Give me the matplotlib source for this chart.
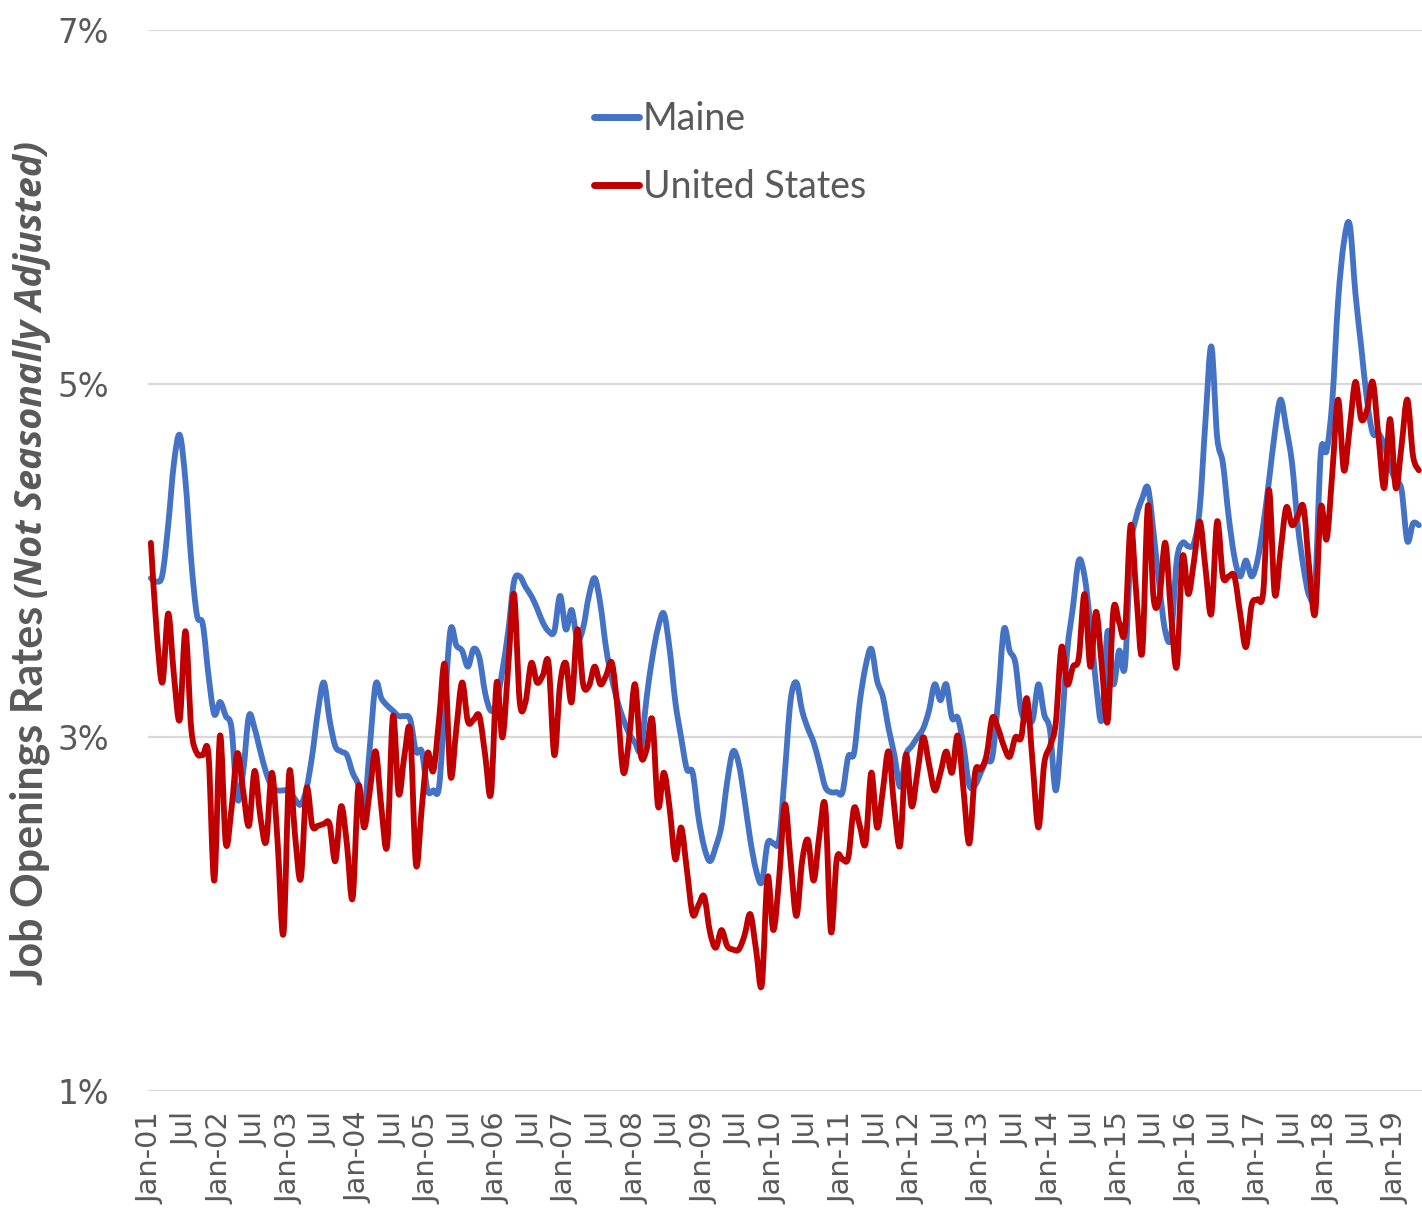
import numpy as np
import matplotlib
matplotlib.use("Agg")
import matplotlib.pyplot as plt
from matplotlib.path import Path
from matplotlib.patches import PathPatch
from matplotlib.lines import Line2D

# ---------------- data (monthly, Jan-2001 .. May-2019) ----------------
series_names = ["Maine", "United States"]

maine = [
    3.90, 3.88, 3.92, 4.20, 4.55, 4.71, 4.45, 4.00, 3.69, 3.64, 3.35, 3.13,   # 2001
    3.20, 3.12, 3.05, 2.65, 2.80, 3.12, 3.05, 2.92, 2.80, 2.72, 2.70, 2.70,   # 2002
    2.70, 2.65, 2.62, 2.71, 2.90, 3.15, 3.31, 3.10, 2.95, 2.92, 2.90, 2.80,   # 2003
    2.73, 2.59, 2.95, 3.30, 3.22, 3.18, 3.15, 3.12, 3.12, 3.10, 2.92, 2.92,   # 2004
    2.70, 2.70, 2.72, 3.19, 3.61, 3.52, 3.49, 3.40, 3.50, 3.45, 3.25, 3.15,   # 2005
    3.20, 3.38, 3.60, 3.88, 3.91, 3.85, 3.80, 3.73, 3.65, 3.60, 3.60, 3.80,   # 2006
    3.61, 3.72, 3.55, 3.62, 3.80, 3.90, 3.75, 3.50, 3.33, 3.20, 3.10, 3.02,   # 2007
    2.97, 2.93, 3.22, 3.45, 3.62, 3.70, 3.50, 3.20, 3.00, 2.82, 2.80, 2.55,   # 2008
    2.38, 2.30, 2.38, 2.50, 2.75, 2.92, 2.85, 2.65, 2.42, 2.25, 2.18, 2.40,   # 2009
    2.40, 2.42, 2.80, 3.21, 3.31, 3.15, 3.05, 2.97, 2.85, 2.72, 2.69, 2.69,   # 2010
    2.69, 2.89, 2.91, 3.20, 3.40, 3.50, 3.32, 3.23, 3.05, 2.90, 2.72, 2.90,   # 2011
    2.95, 3.00, 3.05, 3.15, 3.30, 3.21, 3.30, 3.11, 3.11, 2.95, 2.73, 2.73,   # 2012
    2.80, 2.87, 2.89, 3.21, 3.61, 3.49, 3.42, 3.15, 3.10, 3.10, 3.30, 3.13,   # 2013
    3.04, 2.70, 3.04, 3.49, 3.74, 4.00, 3.91, 3.64, 3.30, 3.10, 3.60, 3.30,   # 2014
    3.49, 3.40, 4.06, 4.25, 4.35, 4.41, 4.15, 3.85, 3.60, 3.57, 4.00, 4.10,   # 2015
    4.08, 4.10, 4.30, 4.80, 5.21, 4.70, 4.55, 4.25, 4.02, 3.91, 4.00, 3.91,   # 2016
    4.00, 4.20, 4.45, 4.72, 4.91, 4.75, 4.55, 4.20, 3.96, 3.80, 3.85, 4.61,   # 2017
    4.62, 4.91, 5.47, 5.80, 5.90, 5.51, 5.21, 4.91, 4.72, 4.72, 4.65, 4.53,   # 2018
    4.45, 4.40, 4.11, 4.21, 4.20,                                             # 2019
]

united_states = [
    4.10, 3.60, 3.31, 3.70, 3.35, 3.10, 3.60, 3.05, 2.91, 2.90, 2.90, 2.19,   # 2001
    3.01, 2.40, 2.60, 2.91, 2.70, 2.50, 2.81, 2.55, 2.41, 2.80, 2.40, 1.89,   # 2002
    2.80, 2.45, 2.20, 2.71, 2.50, 2.50, 2.51, 2.51, 2.30, 2.61, 2.40, 2.09,   # 2003
    2.72, 2.49, 2.70, 2.92, 2.60, 2.39, 3.12, 2.68, 2.90, 3.03, 2.28, 2.60,   # 2004
    2.91, 2.81, 3.10, 3.41, 2.78, 3.05, 3.31, 3.09, 3.10, 3.12, 2.90, 2.68,   # 2005
    3.31, 3.00, 3.40, 3.81, 3.20, 3.20, 3.42, 3.31, 3.35, 3.42, 2.90, 3.30,   # 2006
    3.42, 3.20, 3.61, 3.30, 3.29, 3.40, 3.30, 3.35, 3.42, 3.15, 2.80, 3.00,   # 2007
    3.30, 2.90, 2.93, 3.10, 2.61, 2.80, 2.60, 2.31, 2.49, 2.25, 2.00, 2.05,   # 2008
    2.10, 1.90, 1.81, 1.91, 1.82, 1.80, 1.80, 1.88, 2.00, 1.80, 1.60, 2.21,   # 2009
    1.91, 2.20, 2.62, 2.30, 1.99, 2.30, 2.42, 2.19, 2.45, 2.61, 1.90, 2.31,   # 2010
    2.31, 2.32, 2.60, 2.50, 2.40, 2.80, 2.49, 2.70, 2.92, 2.60, 2.39, 2.90,   # 2011
    2.61, 2.80, 3.00, 2.85, 2.70, 2.80, 2.92, 2.80, 3.01, 2.70, 2.40, 2.80,   # 2012
    2.82, 2.90, 3.11, 3.05, 2.95, 2.89, 3.00, 3.00, 3.22, 2.85, 2.49, 2.85,   # 2013
    2.95, 3.08, 3.51, 3.30, 3.40, 3.45, 3.81, 3.40, 3.71, 3.40, 3.09, 3.72,   # 2014
    3.65, 3.60, 4.20, 3.80, 3.48, 4.31, 3.78, 3.79, 4.10, 3.70, 3.40, 4.02,   # 2015
    3.81, 4.00, 4.22, 3.95, 3.70, 4.22, 3.91, 3.91, 3.91, 3.70, 3.51, 3.75,   # 2016
    3.78, 3.82, 4.40, 3.81, 4.05, 4.30, 4.20, 4.25, 4.30, 3.95, 3.70, 4.30,   # 2017
    4.12, 4.50, 4.91, 4.51, 4.75, 5.01, 4.80, 4.85, 5.01, 4.70, 4.41, 4.80,   # 2018
    4.41, 4.65, 4.91, 4.59, 4.51,                                             # 2019
]

n_months = len(maine)
start_year = 2001
tick_every = 6
y_ticks = [1, 3, 5, 7]
y_tick_labels = ["1%", "3%", "5%", "7%"]

colors = {"Maine": "#4472C4", "United States": "#C00000"}
grey_text = "#595959"

# ---------------- figure ----------------
W, H = 1422, 1208
fig = plt.figure(figsize=(W / 100, H / 100), dpi=100)
ax = fig.add_axes([148 / W, 1 - 1091 / H, (1422 - 148) / W, (1091 - 30) / H])

x = np.arange(n_months, dtype=float)


def smooth_path(xs, ys):
    """Excel-like smoothed line (Catmull-Rom as cubic Bezier) through the data points."""
    xs = np.asarray(xs, float)
    ys = np.asarray(ys, float)
    n = len(xs)
    verts = [(xs[0], ys[0])]
    codes = [Path.MOVETO]
    for i in range(n - 1):
        i0 = max(i - 1, 0)
        i3 = min(i + 2, n - 1)
        c1 = (xs[i] + (xs[i + 1] - xs[i0]) / 6.0, ys[i] + (ys[i + 1] - ys[i0]) / 6.0)
        c2 = (xs[i + 1] - (xs[i3] - xs[i]) / 6.0, ys[i + 1] - (ys[i3] - ys[i]) / 6.0)
        verts += [c1, c2, (xs[i + 1], ys[i + 1])]
        codes += [Path.CURVE4, Path.CURVE4, Path.CURVE4]
    return Path(verts, codes)


for name, vals in (("Maine", maine), ("United States", united_states)):
    patch = PathPatch(smooth_path(x, vals), fill=False, edgecolor=colors[name],
                      linewidth=4.2, capstyle="round", joinstyle="round", zorder=3)
    ax.add_patch(patch)

ax.set_xlim(-0.5, n_months - 0.5 + 0.05)
ax.set_ylim(1, 7)

# grid / spines
for s in ax.spines.values():
    s.set_visible(False)
ax.set_yticks(y_ticks)
ax.set_yticklabels(y_tick_labels)
ax.yaxis.grid(True, color="#d9d9d9", linewidth=1.6, zorder=0)
ax.set_axisbelow(True)
ax.tick_params(axis="y", length=0, pad=28, labelsize=23.5, labelcolor=grey_text)

xt = list(range(0, n_months, tick_every))
xl = []
for m in xt:
    if m % 12 == 0:
        xl.append(f"Jan-{(start_year + m // 12) % 100:02d}")
    else:
        xl.append("Jul")
ax.set_xticks(xt)
ax.set_xticklabels(xl, rotation=90)
ax.tick_params(axis="x", length=0, pad=15, labelsize=20.8, labelcolor=grey_text)
for lab in ax.get_xticklabels():
    lab.set_verticalalignment("top")
    lab.set_horizontalalignment("center")

# legend
handles = [Line2D([0], [0], color=colors[nm], lw=5, solid_capstyle="round") for nm in series_names]
fig.legend(handles, series_names, loc="upper left",
           bbox_to_anchor=(594 / W, 1 - 101 / H), frameon=False,
           prop={"family": "Lato", "size": 27}, labelcolor=grey_text,
           handlelength=1.2, handletextpad=0.1, labelspacing=0.86,
           borderpad=0, borderaxespad=0)

# y axis title: bold part + italic part
fig.canvas.draw()
renderer = fig.canvas.get_renderer()
t1 = fig.text(30 / W, 1 - 985 / H, "Job Openings Rates", rotation=90,
              ha="center", va="bottom", fontsize=31, fontweight="bold",
              family="Lato", color=grey_text)
bb = t1.get_window_extent(renderer=renderer)
top_px = bb.y1 + 8
t2 = fig.text(32 / W, top_px / H, "(Not Seasonally Adjusted)", rotation=90,
              ha="center", va="bottom", fontsize=22, fontweight="bold",
              style="italic", family="Open Sans", color=grey_text)
# fit the italic part to its length in the reference (top near y = 140 px)
target_len = (1208 - 140) - top_px
for _ in range(4):
    fig.canvas.draw()
    bb2 = t2.get_window_extent(renderer=fig.canvas.get_renderer())
    t2.set_fontsize(t2.get_fontsize() * target_len / max(bb2.height, 1))

fig.savefig("out.png", dpi=100, facecolor="white")
